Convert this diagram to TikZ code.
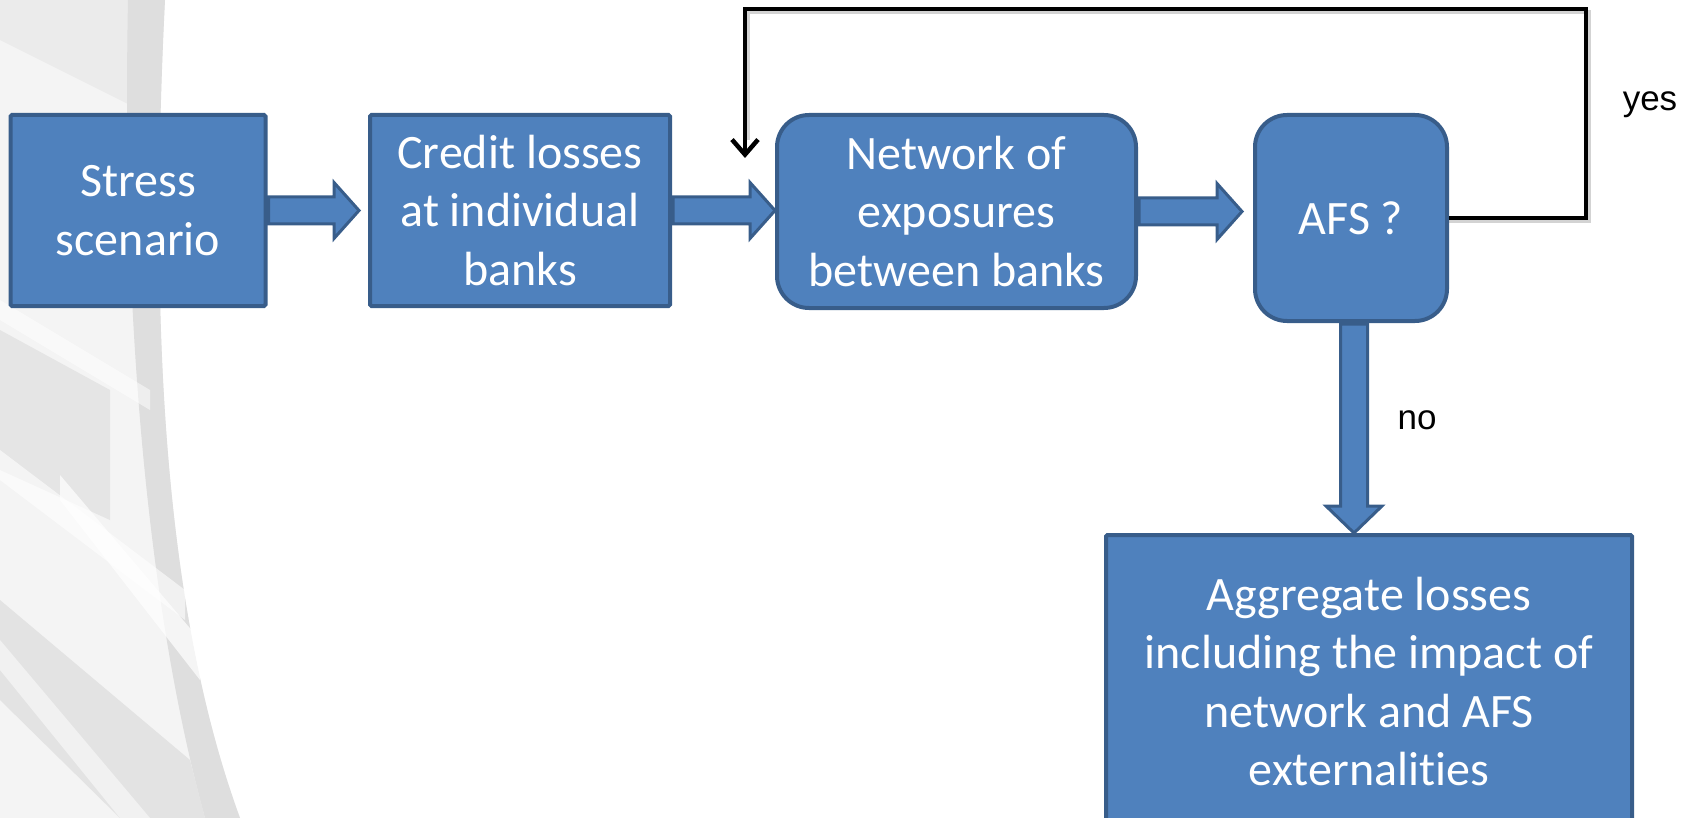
\documentclass[tikz,border=0pt]{standalone}
\usepackage{fontspec}
\setmainfont{Carlito}[Ligatures={NoCommon,NoContextual}]
\newfontfamily\arialf{Liberation Sans}
\usetikzlibrary{arrows.meta,calc}
\definecolor{boxfill}{HTML}{4F81BD}
\definecolor{boxline}{HTML}{385D8A}
\tikzset{
  box/.style={draw=boxline, fill=boxfill, line width=4pt, text=white,
    font=\fontsize{48}{58.5}\selectfont, align=center, inner sep=0pt},
  sqbox/.style={box, rounded corners=1.5pt},
  rbox/.style={box, rounded corners=32pt},
  barrow/.style={draw=boxline, fill=boxfill, line width=3pt, line join=miter},
  fb/.style={draw=black, line width=4.5pt, -{Straight Barb[length=15pt,width=26pt]}},
  fbshadow/.style={draw=gray, opacity=.35, line width=4pt},
  lbl/.style={font=\arialf\fontsize{35}{42}\selectfont, text=black},
}
\newcommand{\hblk}[3]{%
  \draw[barrow] let \p1=(#1.east), \p2=(#2.west) in
    (\x1+1pt,\y1+13.5pt) -- (\x2-#3-25pt,\y1+13.5pt) -- (\x2-#3-25pt,\y1+28pt)
    -- (\x2-#3,\y1) -- (\x2-#3-25pt,\y1-28pt) -- (\x2-#3-25pt,\y1-13.5pt)
    -- (\x1+1pt,\y1-13.5pt) -- cycle;}
\begin{document}
\begin{tikzpicture}[x=1pt,y=-1pt]
\useasboundingbox (0,0) rectangle (1694,818);
% background decoration
\fill[gray!9] (0,0) -- (165,0) .. controls (150,300) and (160,600) .. (240,818) -- (0,818) -- cycle;
\fill[gray!16] (0,0) -- (140,0) -- (140,110) -- (0,40) -- cycle;
\fill[gray!26] (128,0) -- (165,0) .. controls (150,300) and (160,600) .. (240,818) -- (205,818) .. controls (145,600) and (122,300) .. (128,0) -- cycle;
\fill[gray!20] (0,330) -- (110,390) -- (110,520) -- (0,470) -- cycle;
\fill[white,opacity=.5] (0,300) -- (150,390) -- (150,410) -- (0,320) -- cycle;
\fill[white,opacity=.6] (0,450) -- (185,590) -- (185,620) -- (0,480) -- cycle;
\fill[white,opacity=.7] (60,475) -- (200,640) -- (200,680) -- (60,500) -- cycle;
\fill[gray!22] (0,600) -- (190,760) -- (205,818) -- (120,818) -- (0,700) -- cycle;
\fill[white,opacity=.5] (0,640) -- (150,818) -- (120,818) -- (0,670) -- cycle;
% nodes
\node[sqbox, minimum width=255pt, minimum height=191pt] (stress) at (138,210.5) {Stress\\scenario};
\node[sqbox, minimum width=300pt, minimum height=191pt] (credit) at (520,210.5) {Credit losses\\at individual\\banks};
\node[rbox, minimum width=359pt, minimum height=193pt] (network) at (956.5,211.5) {Network of\\exposures\\between banks};
\node[rbox, minimum width=192pt, minimum height=206pt] (afs) at (1351,218) {AFS ?};
\node[sqbox, minimum width=526pt, minimum height=293pt] (agg) at (1369,681.5) {Aggregate losses\\including the impact of\\network and AFS\\externalities};
% block arrows
\hblk{stress}{credit}{9pt}
\hblk{credit}{network}{0pt}
\hblk{network}{afs}{11pt}
\draw[barrow] let \p1=(afs.south), \p2=(agg.north) in
  ($(\x1,\y1)+(3,1)+(-13.5,0)$) -- ($(\x1,\y2)+(3,-27)+(-13.5,0)$) -- ($(\x1,\y2)+(3,-27)+(-28,0)$)
  -- ($(\x1,\y2)+(3,0)$) -- ($(\x1,\y2)+(3,-27)+(28,0)$) -- ($(\x1,\y2)+(3,-27)+(13.5,0)$)
  -- ($(\x1,\y1)+(3,1)+(13.5,0)$) -- cycle;
% feedback loop
\coordinate (fbR) at (1586,9);
\coordinate (fbEnd) at (745,158);
\coordinate (fbRs) at (1589,12);
\coordinate (fbEnds) at (748,140);
\draw[fbshadow] ($(afs.east)+(0,3)$) -| (fbRs) -| (fbEnds);
\draw[fb] (afs.east) -| (fbR) -| (fbEnd);
% labels
\node[lbl] (yes) at (1650,105) {yes};
\node[lbl] (no) at (1417,420) {no};
\end{tikzpicture}
\end{document}
